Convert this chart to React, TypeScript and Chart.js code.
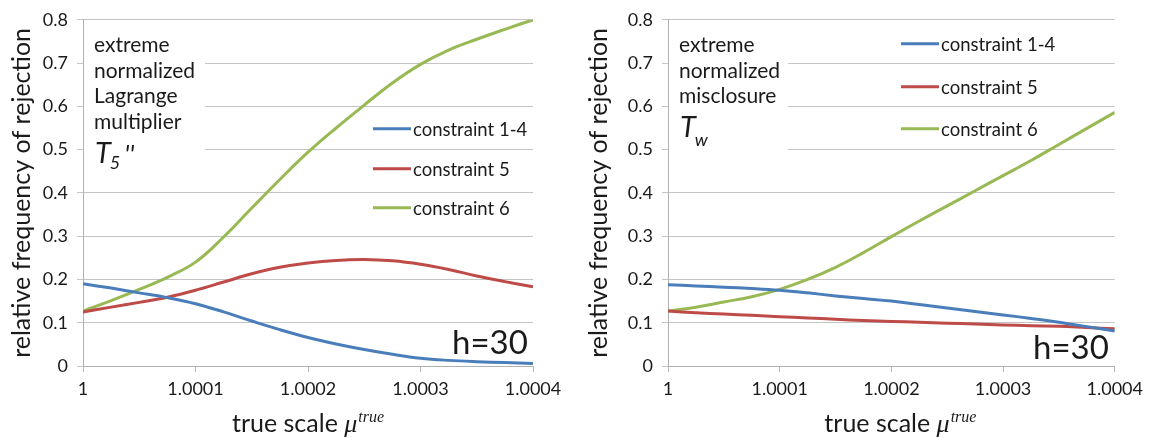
import React, { useEffect, useRef } from "react";
import { Chart, registerables } from "chart.js";
Chart.register(...registerables);

// x positions: offset of true scale above 1, in units of 1e-4
const muOffsets = [0, 0.25, 0.5, 0.75, 1, 1.25, 1.5, 1.75, 2, 2.25, 2.5, 2.75, 3, 3.25, 3.5, 3.75, 4];
const xTickLabels = ["1", "1.0001", "1.0002", "1.0003", "1.0004"];
const yTickLabels = ["0", "0.1", "0.2", "0.3", "0.4", "0.5", "0.6", "0.7", "0.8"];
const seriesNames = ["constraint 1-4", "constraint 5", "constraint 6"];
const seriesColors = ["#4A7EBB", "#BE4B48", "#98B954"];

// left panel: extreme normalized Lagrange multiplier T5''
const lagrangeC14 = [0.190, 0.180, 0.169, 0.158, 0.144, 0.125, 0.104, 0.084, 0.066, 0.051, 0.038, 0.027, 0.018, 0.013, 0.010, 0.008, 0.006];
const lagrangeC5 = [0.125, 0.136, 0.147, 0.159, 0.175, 0.194, 0.213, 0.228, 0.238, 0.244, 0.246, 0.243, 0.235, 0.223, 0.208, 0.195, 0.183];
const lagrangeC6 = [0.127, 0.151, 0.177, 0.205, 0.240, 0.298, 0.365, 0.431, 0.494, 0.550, 0.603, 0.654, 0.697, 0.730, 0.755, 0.778, 0.800];

// right panel: extreme normalized misclosure Tw
const misclosureC14 = [0.188, 0.185, 0.182, 0.179, 0.175, 0.169, 0.162, 0.156, 0.150, 0.142, 0.134, 0.126, 0.118, 0.110, 0.101, 0.091, 0.081];
const misclosureC5 = [0.127, 0.123, 0.120, 0.117, 0.114, 0.111, 0.108, 0.105, 0.103, 0.101, 0.099, 0.097, 0.095, 0.093, 0.092, 0.089, 0.086];
const misclosureC6 = [0.127, 0.136, 0.148, 0.160, 0.177, 0.200, 0.228, 0.262, 0.299, 0.335, 0.370, 0.405, 0.440, 0.475, 0.512, 0.549, 0.586];

const leftNote = ["extreme", "normalized", "Lagrange", "multiplier"];
const rightNote = ["extreme", "normalized", "misclosure"];
const yTitle = "relative frequency of rejection";
const xTitleMain = "true scale ";
const xTitleSymbol = "\u03BC";
const xTitleSup = "true";
const hLabel = "h=30";

const FONT = "Lato, 'Open Sans', sans-serif";
const TEXT = "#1a1a1a";

type PanelCfg = {
  left: number;
  width: number;
  axisWidth: number;
  rightPad: number;
  series: number[][];
  note: string[];
  symbolSub: string;
  symbolPrime: string;
  subDrop: number;
  boxRight: number;
  boxBottom: number;
  legendLineX: number;
  legendRows: number[];
  hX: number;
  hY: number;
  yTitleX: number;
  xTitleShift: number;
};

function Panel({ cfg }: { cfg: PanelCfg }) {
  const ref = useRef<HTMLCanvasElement | null>(null);
  useEffect(() => {
    const canvas = ref.current;
    if (!canvas) return;
    const overlay = {
      id: "overlay",
      beforeDatasetsDraw(chart: any) {
        const ctx = chart.ctx;
        const a = chart.chartArea;
        ctx.save();
        ctx.fillStyle = "#ffffff";
        ctx.fillRect(a.left + 1, a.top + 6, cfg.boxRight, cfg.boxBottom);
        ctx.restore();
      },
      afterDraw(chart: any) {
        const ctx = chart.ctx;
        const a = chart.chartArea;
        ctx.save();
        ctx.fillStyle = TEXT;
        ctx.textAlign = "left";
        ctx.textBaseline = "alphabetic";
        // annotation
        ctx.font = `21px ${FONT}`;
        const tx = a.left + 11;
        let base = a.top + 32.5;
        cfg.note.forEach((line, i) => {
          ctx.fillText(line, tx, a.top + 32.5 + i * 25.4);
          base = a.top + 32.5 + i * 25.4;
        });
        const tBase = base + 34;
        ctx.font = `italic 29px ${FONT}`;
        ctx.fillText("T", tx + 1, tBase);
        const tw = ctx.measureText("T").width;
        ctx.font = `italic 18px ${FONT}`;
        ctx.fillText(cfg.symbolSub, tx + 1 + tw - 1, tBase + cfg.subDrop);
        const sw = ctx.measureText(cfg.symbolSub).width;
        if (cfg.symbolPrime) {
          ctx.font = `italic 26px ${FONT}`;
          ctx.fillText(cfg.symbolPrime, tx + tw + sw + 4, tBase);
        }
        // legend
        ctx.font = `18.5px ${FONT}`;
        ctx.textBaseline = "middle";
        chart.data.datasets.forEach((ds: any, i: number) => {
          const y = a.top + cfg.legendRows[i];
          ctx.strokeStyle = ds.borderColor;
          ctx.lineWidth = 3;
          ctx.beginPath();
          ctx.moveTo(a.left + cfg.legendLineX, y);
          ctx.lineTo(a.left + cfg.legendLineX + 38, y);
          ctx.stroke();
          ctx.fillStyle = TEXT;
          ctx.fillText(ds.label, a.left + cfg.legendLineX + 40, y + 1);
        });
        // h label
        ctx.textBaseline = "alphabetic";
        ctx.font = `33px ${FONT}`;
        ctx.fillText(hLabel, a.left + cfg.hX, a.top + cfg.hY);
        // x title
        ctx.font = `25px ${FONT}`;
        const w1 = ctx.measureText(xTitleMain).width;
        ctx.font = `italic 26px 'Liberation Serif', serif`;
        const w2 = ctx.measureText(xTitleSymbol).width;
        ctx.font = `italic 16px 'Liberation Serif', serif`;
        const w3 = ctx.measureText(xTitleSup).width;
        const total = w1 + w2 + 1 + w3;
        let x0 = (a.left + a.right) / 2 - total / 2 + cfg.xTitleShift;
        const xb = a.bottom + 66;
        ctx.font = `25px ${FONT}`;
        ctx.fillText(xTitleMain, x0, xb);
        x0 += w1;
        ctx.font = `italic 26px 'Liberation Serif', serif`;
        ctx.fillText(xTitleSymbol, x0, xb);
        x0 += w2 + 1;
        ctx.font = `italic 16px 'Liberation Serif', serif`;
        ctx.fillText(xTitleSup, x0, xb - 10);
        // y title
        ctx.font = `25px ${FONT}`;
        ctx.translate(cfg.yTitleX, (a.top + a.bottom) / 2);
        ctx.rotate(-Math.PI / 2);
        ctx.textAlign = "center";
        ctx.fillText(yTitle, 0, 0);
        ctx.restore();
      },
    };
    const chart = new Chart(canvas, {
      type: "line",
      data: {
        datasets: cfg.series.map((vals, i) => ({
          label: seriesNames[i],
          data: muOffsets.map((x, j) => ({ x, y: vals[j] })),
          borderColor: seriesColors[i],
          backgroundColor: seriesColors[i],
          borderWidth: 3,
          pointRadius: 0,
          tension: 0.4,
          fill: false,
        })),
      },
      options: {
        responsive: false,
        animation: false,
        layout: { padding: { left: 0, right: cfg.rightPad, top: 19, bottom: 0 } },
        plugins: { legend: { display: false }, tooltip: { enabled: false } },
        scales: {
          x: {
            type: "linear",
            min: 0,
            max: 4,
            afterFit(s: any) {
              s.height = 72;
            },
            grid: { drawOnChartArea: false, drawTicks: true, tickLength: 6, color: "#b8b8b8" },
            border: { color: "#b0b0b0" },
            ticks: {
              stepSize: 1,
              padding: 6,
              maxRotation: 0,
              autoSkip: false,
              color: TEXT,
              font: { family: FONT, size: 18 },
              callback: (_v: any, i: number) => xTickLabels[i] ?? "",
            },
          },
          y: {
            min: 0,
            max: 0.8,
            afterFit(s: any) {
              s.width = cfg.axisWidth;
            },
            grid: { color: "#c4c4c4", tickLength: 6 },
            border: { color: "#b0b0b0" },
            ticks: {
              stepSize: 0.1,
              padding: 9,
              color: TEXT,
              font: { family: FONT, size: 18 },
              callback: (_v: any, i: number) => yTickLabels[i] ?? "",
            },
          },
        },
      },
      plugins: [overlay],
    });
    return () => chart.destroy();
  }, [cfg]);
  return (
    <canvas
      ref={ref}
      width={cfg.width}
      height={438}
      style={{ position: "absolute", left: cfg.left, top: 0, width: cfg.width, height: 438 }}
    />
  );
}

const leftCfg: PanelCfg = {
  left: 0,
  width: 575,
  axisWidth: 83,
  rightPad: 42,
  series: [lagrangeC14, lagrangeC5, lagrangeC6],
  note: leftNote,
  symbolSub: "5",
  symbolPrime: "''",
  subDrop: 6,
  boxRight: 121,
  boxBottom: 148,
  legendLineX: 290,
  legendRows: [109, 149, 188],
  hX: 369,
  hY: 334,
  yTitleX: 29.5,
  xTitleShift: 0,
};

const rightCfg: PanelCfg = {
  left: 575,
  width: 574,
  axisWidth: 93,
  rightPad: 31,
  series: [misclosureC14, misclosureC5, misclosureC6],
  note: rightNote,
  symbolSub: "w",
  symbolPrime: "",
  subDrop: 8.5,
  boxRight: 119,
  boxBottom: 140,
  legendLineX: 233,
  legendRows: [24, 67, 109],
  hX: 365,
  hY: 339,
  yTitleX: 32,
  xTitleShift: 9,
};

export default function App() {
  return (
    <div style={{ position: "absolute", left: 0, top: 0, width: 1149, height: 438, background: "#fff" }}>
      <Panel cfg={leftCfg} />
      <Panel cfg={rightCfg} />
    </div>
  );
}
